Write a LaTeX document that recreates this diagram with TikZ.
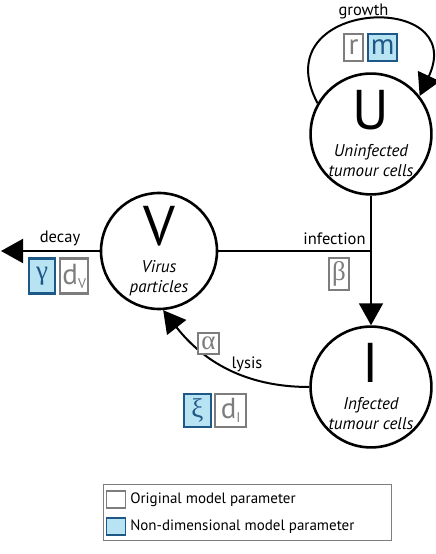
\documentclass[tikz,border=0pt]{standalone}
\usepackage{fontspec}
\setmainfont{PT Sans}
\newfontfamily\greekfont{Liberation Serif}
\usepackage{graphicx}
\usetikzlibrary{arrows.meta,positioning}
\usepackage{xcolor}
\definecolor{parblue}{RGB}{30,88,135}
\definecolor{parfill}{RGB}{184,227,242}
\definecolor{pargray}{RGB}{125,125,125}
\tikzset{
popcircle/.style={circle,draw=black,line width=2.6pt,fill=white,minimum size=116pt,
  inner sep=0pt,align=center,font=\fontsize{17}{20}\selectfont\itshape},
origpar/.style={rectangle,draw=pargray,line width=2.2pt,fill=white,text=pargray,
  inner sep=0pt,font=\fontsize{29}{29}\selectfont},
nondimpar/.style={origpar,draw=parblue,fill=parfill,text=parblue},
flowlabel/.style={font=\fontsize{16.5}{18}\selectfont},
legtext/.style={font=\fontsize{15}{17}\selectfont,inner sep=0pt,anchor=west},
flowline/.style={line width=2pt},
flowarr/.style={line width=2pt,-{Triangle[length=22pt,width=24pt]}}
}
\newcommand{\poplabel}[2]{{\fontsize{56}{56}\selectfont\upshape #1}\\[7pt]#2}
\newcommand{\grk}[1]{{\greekfont\fontsize{27}{27}\selectfont #1}}
\newcommand{\sub}[1]{\raisebox{-4pt}{\fontsize{14}{14}\selectfont #1}}

\begin{document}
\begin{tikzpicture}[x=1pt,y=1pt]
\useasboundingbox (0,0) rectangle (436,554);
% populations
\node[popcircle] (U) at (371,420) {\poplabel{U}{Uninfected\\tumour cells}};
\node[popcircle] (V) at (159,303) {\poplabel{V}{Virus\\particles}};
\node[popcircle] (I) at (371,167) {\poplabel{I}{Infected\\tumour cells}};
% connectors
\coordinate (decayend) at (1,303);
\coordinate (junc) at (U.south |- V.east);
\draw[flowarr] (U.150) to[out=118,in=65,looseness=2.95] (U.38);
\draw[flowarr] (V.west) -- (decayend);
\draw[flowline] (V.east) -- (junc);
\draw[flowarr] (U.south) -- (I.north);
\draw[flowarr] (I.west) to[out=180,in=-52] (V.274);
% labels
\node[flowlabel] (growthl) at (363.5,543) {growth};
\node[flowlabel] (decayl) at (60,316) {decay};
\node[flowlabel] (infectl) at (334.5,315.5) {infection};
\node[flowlabel] (lysisl) at (247,190) {lysis};
% parameters
\node[origpar,minimum width=19pt,minimum height=27pt] (r) at (353.5,506.5) {r};
\node[nondimpar,minimum width=29pt,minimum height=27pt,right=3pt of r] (m) {m};
\node[nondimpar,minimum width=26pt,minimum height=35pt] (gamma) at (42,278) {\grk{γ}};
\node[origpar,minimum width=28pt,minimum height=35pt,right=3pt of gamma] (dV) {d\sub{V}};
\node[origpar,minimum width=20pt,minimum height=32pt] (beta) at (339,280) {\grk{β}};
\node[origpar,minimum width=21pt,minimum height=21pt] (alpha) at (208.5,210.5) {\grk{α}};
\node[nondimpar,minimum width=27pt,minimum height=33pt] (xi) at (197.5,143.5) {\grk{ξ}};
\node[origpar,minimum width=31pt,minimum height=33pt,right=2pt of xi] (dI) {d\sub{I}};
% legend
\node[draw=pargray,line width=1pt,minimum width=288pt,minimum height=56pt,inner sep=0pt] (legend) at (247,41) {};
\node[origpar,line width=1.3pt,minimum width=19pt,minimum height=17pt] (legorig) at (116,54.5) {};
\node[nondimpar,line width=1.3pt,minimum width=19pt,minimum height=17pt] (legnd) at (116,27.5) {};
\node[legtext,right=4pt of legorig] (legorigt) {Original model parameter};
\node[legtext,right=4pt of legnd] (legndt) {Non-dimensional model parameter};
\end{tikzpicture}
\end{document}
